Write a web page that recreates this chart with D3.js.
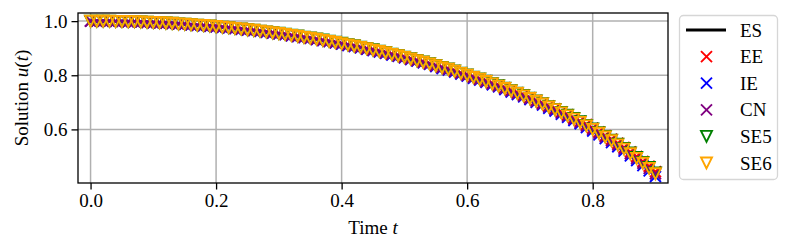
<!DOCTYPE html>
<html lang="en">
<head>
<meta charset="UTF-8">
<title>Solution u(t)</title>
<script src="https://cdn.jsdelivr.net/npm/d3@7"></script>
<style>
  body { margin: 0; background: #fff; }
  svg text { font-family: "Liberation Serif", "Times New Roman", serif; fill: #000; }
</style>
</head>
<body>
<svg id="chart" width="792" height="251"></svg>
<script>
// time grid, step 0.01
const tValues = d3.range(91).map(i => +(i / 100).toFixed(2));

// exact solution ES
const esValues = [1.000,1.000,1.000,1.000,0.999,0.999,0.998,0.998,0.997,0.996,
  0.995,0.994,0.993,0.992,0.990,0.989,0.987,0.985,0.984,0.982,
  0.980,0.978,0.976,0.973,0.971,0.968,0.966,0.963,0.960,0.957,
  0.954,0.951,0.947,0.944,0.940,0.937,0.933,0.929,0.925,0.921,
  0.917,0.912,0.908,0.903,0.898,0.893,0.888,0.883,0.877,0.872,
  0.866,0.860,0.854,0.848,0.842,0.835,0.828,0.822,0.815,0.807,
  0.800,0.792,0.785,0.777,0.768,0.760,0.751,0.742,0.733,0.724,
  0.714,0.704,0.694,0.683,0.673,0.661,0.650,0.638,0.626,0.613,
  0.600,0.586,0.572,0.558,0.543,0.527,0.510,0.493,0.475,0.456,0.436];

// explicit Euler
const eeValues = [1.000,1.000,1.000,1.000,0.999,0.999,0.998,0.998,0.997,0.996,
  0.995,0.994,0.993,0.992,0.990,0.989,0.987,0.985,0.984,0.982,
  0.981,0.979,0.977,0.974,0.972,0.969,0.967,0.964,0.961,0.958,
  0.955,0.952,0.948,0.945,0.941,0.938,0.934,0.930,0.926,0.922,
  0.918,0.913,0.909,0.904,0.899,0.895,0.890,0.885,0.879,0.874,
  0.868,0.862,0.856,0.850,0.844,0.837,0.830,0.824,0.817,0.809,
  0.802,0.794,0.787,0.780,0.771,0.763,0.754,0.745,0.736,0.727,
  0.717,0.707,0.697,0.687,0.677,0.665,0.654,0.642,0.630,0.618,
  0.605,0.591,0.577,0.564,0.549,0.533,0.517,0.500,0.482,0.464,0.444];

// implicit Euler
const ieValues = [1.000,1.000,1.000,1.000,0.999,0.999,0.998,0.998,0.997,0.996,
  0.995,0.994,0.993,0.992,0.990,0.988,0.986,0.984,0.983,0.981,
  0.979,0.977,0.975,0.972,0.970,0.967,0.965,0.962,0.959,0.956,
  0.953,0.950,0.946,0.943,0.939,0.936,0.932,0.928,0.924,0.920,
  0.915,0.910,0.906,0.901,0.896,0.891,0.886,0.881,0.875,0.870,
  0.864,0.858,0.852,0.846,0.840,0.832,0.825,0.819,0.812,0.804,
  0.797,0.789,0.782,0.774,0.765,0.757,0.747,0.738,0.729,0.720,
  0.710,0.700,0.690,0.678,0.668,0.656,0.645,0.633,0.621,0.607,
  0.594,0.580,0.566,0.551,0.536,0.520,0.502,0.485,0.466,0.447,0.426];

// Crank-Nicolson
const cnValues = esValues.slice();

// SE5
const se5Values = [1.000,1.000,1.000,1.000,0.999,0.999,0.998,0.998,0.997,0.996,
  0.995,0.994,0.993,0.992,0.990,0.989,0.987,0.985,0.984,0.982,
  0.980,0.978,0.976,0.973,0.971,0.968,0.966,0.963,0.960,0.957,
  0.955,0.952,0.948,0.945,0.941,0.938,0.934,0.930,0.926,0.922,
  0.918,0.913,0.909,0.904,0.899,0.894,0.889,0.884,0.878,0.873,
  0.867,0.861,0.855,0.849,0.843,0.836,0.829,0.823,0.816,0.808,
  0.801,0.793,0.786,0.778,0.769,0.761,0.752,0.743,0.734,0.725,
  0.715,0.705,0.695,0.684,0.674,0.663,0.652,0.640,0.628,0.615,
  0.602,0.588,0.574,0.560,0.545,0.530,0.513,0.496,0.478,0.459,0.439];

// SE6
const se6Values = esValues.slice();

const xTicks = [0.0, 0.2, 0.4, 0.6, 0.8];
const yTicks = [0.6, 0.8, 1.0];

const seriesNames = ["ES", "EE", "IE", "CN", "SE5", "SE6"];
const seriesColors = ["#000000", "#ff0000", "#0000ff", "#800080", "#008000", "#ffa500"];
const seriesMarkers = ["line", "x", "x", "x", "v", "v"];
const seriesData = [esValues, eeValues, ieValues, cnValues, se5Values, se6Values];

const margin = { left: 78, right: 668, top: 13, bottom: 183 };
const svg = d3.select("#chart");

const x = d3.scaleLinear().domain([-0.02, 0.92]).range([margin.left, margin.right]);
const y = d3.scaleLinear().domain([0.402, 1.03]).range([margin.bottom, margin.top]);

// grid
const grid = svg.append("g");
grid.selectAll(".gx").data(xTicks).enter().append("line")
  .attr("x1", d => x(d)).attr("x2", d => x(d))
  .attr("y1", margin.top).attr("y2", margin.bottom)
  .attr("stroke", "#b0b0b0").attr("stroke-width", 1.5);
grid.selectAll(".gy").data(yTicks).enter().append("line")
  .attr("x1", margin.left).attr("x2", margin.right)
  .attr("y1", d => y(d)).attr("y2", d => y(d))
  .attr("stroke", "#b0b0b0").attr("stroke-width", 1.5);

// clip to axes
svg.append("clipPath").attr("id", "clip").append("rect")
  .attr("x", margin.left).attr("y", margin.top)
  .attr("width", margin.right - margin.left).attr("height", margin.bottom - margin.top);

const plot = svg.append("g").attr("clip-path", "url(#clip)");
const ms = 5.5;

function drawMarker(g, type, color, cx, cy) {
  if (type === "x") {
    g.append("path")
      .attr("d", `M${cx - ms},${cy - ms}L${cx + ms},${cy + ms}M${cx - ms},${cy + ms}L${cx + ms},${cy - ms}`)
      .attr("stroke", color).attr("stroke-width", 1.9).attr("fill", "none");
  } else if (type === "v") {
    g.append("path")
      .attr("d", `M${cx},${cy + ms}L${cx - ms},${cy - ms}L${cx + ms},${cy - ms}Z`)
      .attr("stroke", color).attr("stroke-width", 1.9).attr("fill", "none")
      .attr("stroke-linejoin", "miter");
  }
}

seriesData.forEach((vals, i) => {
  const pts = tValues.map((t, j) => [t, vals[j]]);
  if (seriesMarkers[i] === "line") {
    plot.append("path").datum(pts)
      .attr("d", d3.line().x(d => x(d[0])).y(d => y(d[1])))
      .attr("fill", "none").attr("stroke", seriesColors[i]).attr("stroke-width", 2.8);
  } else {
    const g = plot.append("g");
    pts.forEach(p => drawMarker(g, seriesMarkers[i], seriesColors[i], x(p[0]), y(p[1])));
  }
});

// axes
const xAxis = svg.append("g").attr("transform", `translate(0,${margin.bottom})`)
  .call(d3.axisBottom(x).tickValues(xTicks).tickFormat(d3.format(".1f")).tickSizeInner(6.5).tickSizeOuter(0).tickPadding(4));
const yAxis = svg.append("g").attr("transform", `translate(${margin.left},0)`)
  .call(d3.axisLeft(y).tickValues(yTicks).tickFormat(d3.format(".1f")).tickSizeInner(6.5).tickSizeOuter(0).tickPadding(4));
[xAxis, yAxis].forEach(a => {
  a.select(".domain").remove();
  a.selectAll(".tick line").attr("stroke", "#000").attr("stroke-width", 1.3);
  a.selectAll(".tick text").attr("font-size", 19).attr("font-family", "Liberation Serif");
});
yAxis.selectAll(".tick text").attr("dy", "0.33em");

svg.append("rect")
  .attr("x", margin.left).attr("y", margin.top)
  .attr("width", margin.right - margin.left).attr("height", margin.bottom - margin.top)
  .attr("fill", "none").attr("stroke", "#000").attr("stroke-width", 1.3);

// axis labels
const xl = svg.append("text").attr("x", (margin.left + margin.right) / 2).attr("y", 234)
  .attr("text-anchor", "middle").attr("font-size", 19);
xl.append("tspan").text("Time ");
xl.append("tspan").attr("font-style", "italic").text("t");

const yl = svg.append("text")
  .attr("transform", `translate(28,${(margin.top + margin.bottom) / 2}) rotate(-90)`)
  .attr("text-anchor", "middle").attr("font-size", 19);
yl.append("tspan").text("Solution ");
yl.append("tspan").attr("font-style", "italic").text("u");
yl.append("tspan").text("(");
yl.append("tspan").attr("font-style", "italic").text("t");
yl.append("tspan").text(")");

// legend
const lg = svg.append("g");
lg.append("rect").attr("x", 679.5).attr("y", 15.5).attr("width", 98).attr("height", 164)
  .attr("rx", 4).attr("fill", "#fff").attr("fill-opacity", 0.8)
  .attr("stroke", "#d6d6d6").attr("stroke-width", 1.3);
seriesNames.forEach((name, i) => {
  const cy = 30 + i * 26.6;
  if (seriesMarkers[i] === "line") {
    lg.append("line").attr("x1", 686).attr("x2", 726).attr("y1", cy).attr("y2", cy)
      .attr("stroke", seriesColors[i]).attr("stroke-width", 2.8);
  } else {
    drawMarker(lg, seriesMarkers[i], seriesColors[i], 706.5, cy);
  }
  lg.append("text").attr("x", 740).attr("y", cy).attr("dy", "0.35em")
    .attr("font-size", 19).text(name);
});
</script>
</body>
</html>
